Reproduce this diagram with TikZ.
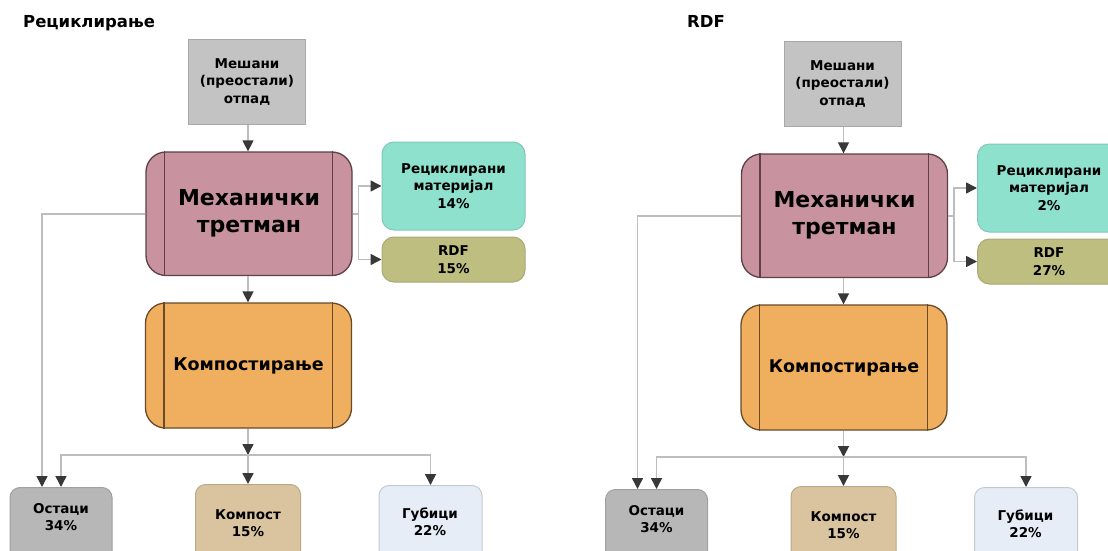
\documentclass[tikz,border=0pt]{standalone}
\usepackage{fontspec}
\setmainfont{DejaVu Sans}
\usetikzlibrary{arrows.meta}

\definecolor{srcfill}{HTML}{C3C3C3}
\definecolor{srcline}{HTML}{A8A8A8}
\definecolor{mechfill}{HTML}{C8929F}
\definecolor{mechline}{HTML}{5E4046}
\definecolor{recfill}{HTML}{8EE1CD}
\definecolor{recline}{HTML}{80C8B8}
\definecolor{rdffill}{HTML}{BEBE80}
\definecolor{rdfline}{HTML}{A9A975}
\definecolor{compfill}{HTML}{F0AF5E}
\definecolor{compline}{HTML}{6A4A2A}
\definecolor{restfill}{HTML}{B7B7B7}
\definecolor{restline}{HTML}{A0A0A0}
\definecolor{kompfill}{HTML}{D9C49F}
\definecolor{kompline}{HTML}{BCA884}
\definecolor{lossfill}{HTML}{E7EDF6}
\definecolor{lossline}{HTML}{C3CAD3}
\definecolor{wire}{HTML}{BDBDBD}
\definecolor{tipcol}{HTML}{383838}

\tikzset{
  smalltxt/.style={font=\fontsize{13.5}{17.5}\selectfont\bfseries, align=center, inner sep=0pt},
  srcbox/.style={draw=srcline, fill=srcfill, line width=1pt,
    minimum width=117pt, minimum height=84pt, smalltxt},
  procbox/.style={rounded corners=20pt, line width=1.3pt,
    minimum width=206pt, align=center, inner sep=0pt},
  outbox/.style={rounded corners=12pt, line width=1pt,
    minimum width=143pt, smalltxt},
  endbox/.style={rounded corners=10pt, line width=1pt, anchor=north,
    minimum height=90pt, inner sep=0pt},
  wireline/.style={draw=wire, line width=1.5pt},
  flow/.style={wireline, -{Triangle[length=11pt,width=11pt,color=tipcol]}},
  heading/.style={font=\fontsize{16.5}{20}\selectfont\bfseries, anchor=base west, inner sep=0pt}
}

% one treatment chain: #1 name prefix, #2/#3 offset, #4 recycled share, #5 RDF share
\newcommand\wastechart[5]{%
\begin{scope}[shift={(#2,#3)}]
  \node[srcbox] (#1-src) at (247,82) {Мешани\\(преостали)\\отпад};
  \node[procbox, fill=mechfill, draw=mechline, minimum height=123.5pt,
        font=\fontsize{22}{27}\selectfont\bfseries] (#1-mech) at (249,213.75) {Механички\\третман};
  \node[procbox, fill=compfill, draw=compline, minimum height=125pt,
        font=\fontsize{17.5}{21}\selectfont\bfseries] (#1-comp) at (248.5,365.5) {Компостирање};
  \draw[mechline, line width=1.3pt]
    ([xshift=19pt]#1-mech.north west) -- ([xshift=19pt]#1-mech.south west)
    ([xshift=-20pt]#1-mech.north east) -- ([xshift=-20pt]#1-mech.south east);
  \draw[compline, line width=1.3pt]
    ([xshift=19pt]#1-comp.north west) -- ([xshift=19pt]#1-comp.south west)
    ([xshift=-20pt]#1-comp.north east) -- ([xshift=-20pt]#1-comp.south east);
  \node[outbox, fill=recfill, draw=recline, minimum height=88pt] (#1-rec) at (453.5,186)
    {Рециклирани\\материјал\\#4};
  \node[outbox, fill=rdffill, draw=rdfline, minimum height=45pt] (#1-rdf) at (453.5,259.5)
    {RDF\\#5};
  \node[endbox, fill=restfill, draw=restline, minimum width=102pt] (#1-rest) at (61,487) {};
  \node[endbox, fill=kompfill, draw=kompline, minimum width=105pt] (#1-komp) at (248,484) {};
  \node[endbox, fill=lossfill, draw=lossline, minimum width=103pt] (#1-loss) at (430.5,485) {};
  \node[smalltxt] (#1-restt) at (61,517) {Остаци\\34\%};
  \node[smalltxt] (#1-kompt) at (248,523) {Компост\\15\%};
  \node[smalltxt] (#1-losst) at (430,521.5) {Губици\\22\%};
  \coordinate (#1-fork) at (248,455);
  % connectors, kept on the chain's vertical axis
  \draw[flow] (#1-src.south -| #1-fork) -- (#1-mech.north -| #1-fork);
  \draw[flow] (#1-mech.south -| #1-fork) -- (#1-comp.north -| #1-fork);
  \draw[flow] (#1-comp.south -| #1-fork) -- (#1-fork);
  \draw[flow] (#1-mech.east) -- ++(6,0) |- (#1-rec.west);
  \draw[flow] (#1-mech.east) -- ++(6,0) |- (#1-rdf.west);
  \draw[flow] (#1-mech.west) -| ([xshift=-19pt]#1-rest.north);
  \draw[flow] (#1-fork) -| (#1-rest.north);
  \draw[flow] (#1-fork) -- (#1-komp.north);
  \draw[flow] (#1-fork) -| (#1-loss.north);
\end{scope}}

\begin{document}
\begin{tikzpicture}[x=1pt, y=-1pt]
  \clip (0,0) rectangle (1108,551);
  \fill[white] (0,0) rectangle (1108,551);
  \node[heading] (title-rec) at (23,28) {Рециклирање};
  \node[heading] (title-rdf) at (687,28) {RDF};
  \wastechart{rc}{0}{0}{14\%}{15\%}
  \wastechart{rf}{595.5}{2}{2\%}{27\%}
\end{tikzpicture}
\end{document}
